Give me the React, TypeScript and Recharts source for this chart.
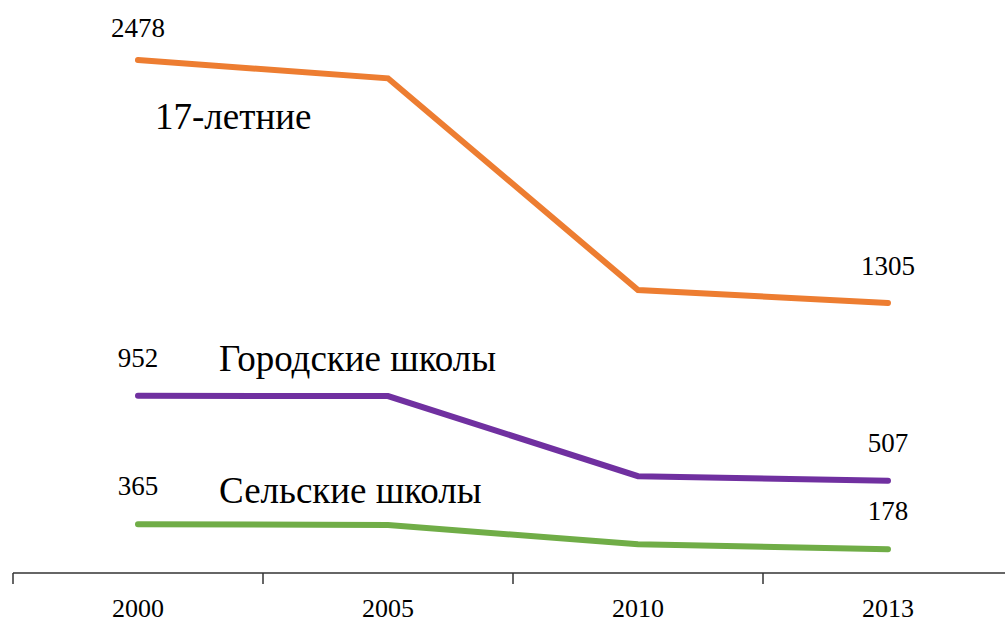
import React from "react";
import { LineChart, Line, XAxis, YAxis, LabelList } from "recharts";

const years = ["2000", "2005", "2010", "2013"];
const teens17 = [2478, 2390, 1367, 1305];
const urban = [952, 950, 531, 507];
const rural = [365, 359, 215, 178];
const seriesNames = ["17-летние", "Городские школы", "Сельские школы"];

const data = years.map((y, i) => ({
  year: y,
  teens17: teens17[i],
  urban: urban[i],
  rural: rural[i],
}));

const FONT = "'Liberation Serif', 'Times New Roman', serif";

const makeLabel = (name: string, nx: number, ny: number, up0: number, up1: number) => (props: any) => {
  const { x, y, index, value } = props;
  if (index !== 0 && index !== years.length - 1) return null;
  const up = index === 0 ? up0 : up1;
  return (
    <g>
      <text x={x} y={y - up} textAnchor="middle" fontFamily={FONT} fontSize={27} fill="#000">
        {value}
      </text>
      {index === 0 ? (
        <text x={x + nx} y={y + ny} textAnchor="start" fontFamily={FONT} fontSize={37} fill="#000">
          {name}
        </text>
      ) : null}
    </g>
  );
};

const YearTick = (props: any) => {
  const { x, payload } = props;
  return (
    <g>
      <line x1={x - 125} x2={x - 125} y1={573} y2={584} stroke="#333" strokeWidth={1.5} />
      <text x={x} y={617} textAnchor="middle" fontFamily={FONT} fontSize={26} fill="#000">
        {payload.value}
      </text>
    </g>
  );
};

export default function App() {
  return (
    <div style={{ position: "absolute", left: 0, top: 0, width: 1005, height: 624, overflow: "hidden", background: "#fff" }}>
      <LineChart width={1020} height={624} data={data} margin={{ top: 10, right: 7, bottom: 0, left: 13 }}>
        <XAxis
          dataKey="year"
          height={51}
          tickLine={false}
          padding={{ left: 125, right: 125 }}
          axisLine={{ stroke: "#333", strokeWidth: 1.5 }}
          tick={<YearTick />}
          interval={0}
        />
        <YAxis yAxisId="a" hide domain={[0, 2720]} />
        <YAxis yAxisId="b" hide domain={[24, 2971]} />
        <YAxis yAxisId="c" hide domain={[0, 4211]} />
        <Line yAxisId="a" dataKey="teens17" stroke="#ED7D31" strokeWidth={6} dot={false} strokeLinecap="round" isAnimationActive={false}>
          <LabelList dataKey="teens17" content={makeLabel(seriesNames[0], 17, 69, 23, 28)} />
        </Line>
        <Line yAxisId="b" dataKey="urban" stroke="#7030A0" strokeWidth={6} dot={false} strokeLinecap="round" isAnimationActive={false}>
          <LabelList dataKey="urban" content={makeLabel(seriesNames[1], 81, -25, 29, 29)} />
        </Line>
        <Line yAxisId="c" dataKey="rural" stroke="#70AD47" strokeWidth={6} dot={false} strokeLinecap="round" isAnimationActive={false}>
          <LabelList dataKey="rural" content={makeLabel(seriesNames[2], 81, -21, 29, 29)} />
        </Line>
      </LineChart>
    </div>
  );
}
